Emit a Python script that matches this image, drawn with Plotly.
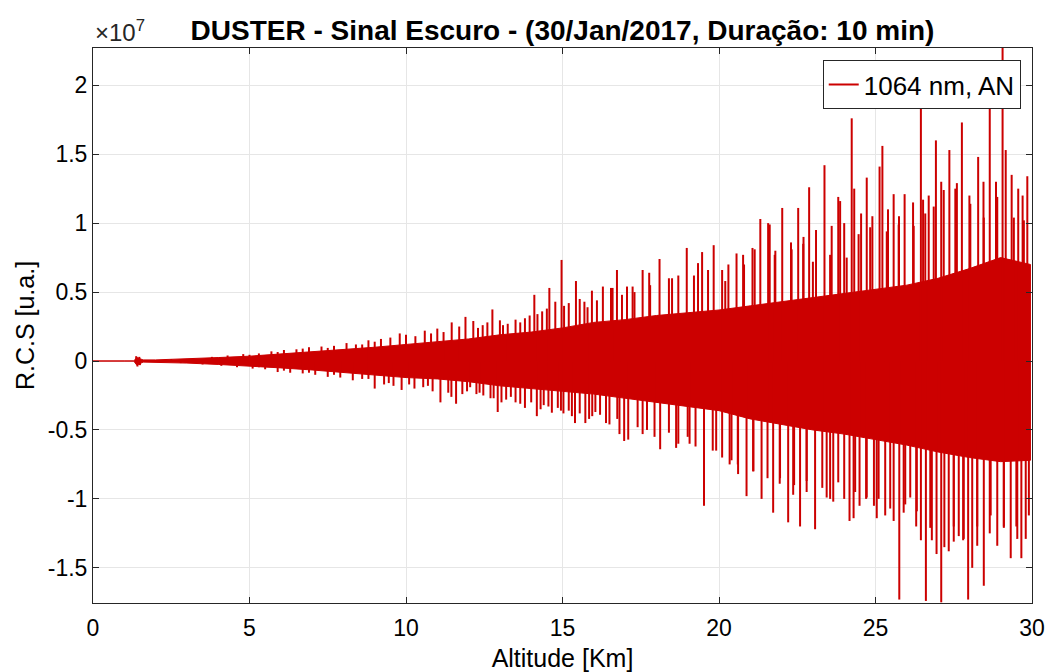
import plotly.graph_objects as go

SCALE = 1e7

# Dense (solid) core of the signal, values in units of 1e7
band_alt = [0, 1, 1.3, 1.4, 1.6, 2, 3, 4, 5, 6, 7, 8, 9, 10, 11, 12, 13, 14, 15,
            16, 17, 18, 19, 20, 21, 22, 23, 24, 25, 26, 27, 28, 29, 29.95]
band_upper = [0, 0, 0, 0.025, 0.008, 0.008, 0.015, 0.025, 0.035, 0.05, 0.065, 0.08,
              0.10, 0.12, 0.14, 0.16, 0.19, 0.21, 0.24, 0.28, 0.30, 0.33, 0.35, 0.37,
              0.40, 0.43, 0.46, 0.49, 0.52, 0.55, 0.60, 0.67, 0.75, 0.70]
band_lower = [0, 0, 0, -0.03, -0.008, -0.008, -0.015, -0.025, -0.035, -0.05, -0.065,
              -0.08, -0.10, -0.12, -0.13, -0.15, -0.18, -0.20, -0.22, -0.24, -0.27,
              -0.30, -0.33, -0.36, -0.42, -0.46, -0.50, -0.53, -0.57, -0.61, -0.66,
              -0.70, -0.73, -0.72]

# Positive spikes (altitude km, value in 1e7)
up_alt = [1.38, 1.48, 2.5, 3.2, 3.8, 4.3, 4.8, 5.3, 5.7, 6.1, 6.5, 6.9, 7.3, 7.7, 8.1,
          8.4, 8.8, 9.2, 9.5, 9.8, 10.0, 10.3, 10.6, 11.0, 11.46, 11.9, 12.15, 12.45,
          12.76, 13.0, 13.25, 13.5, 13.8, 14.1, 14.35, 14.58, 14.77, 14.97, 15.2, 15.43,
          15.7, 15.94, 16.29, 16.55, 16.74, 17.06, 17.3, 17.56, 17.8, 18.1, 18.4, 18.7,
          18.97, 19.2, 19.46, 19.83, 20.1, 20.3, 20.56, 20.8, 21.07, 21.32, 21.57, 21.8,
          22.02, 22.3, 22.53, 22.7, 22.88, 23.1, 23.37, 23.6, 23.81, 24.0, 24.24, 24.32,
          24.54, 24.72, 24.9, 25.13, 25.22, 25.4, 25.58, 25.75, 25.93, 26.2, 26.45, 26.52,
          26.7, 26.93, 27.1, 27.36, 27.55, 27.76, 28.0, 28.28, 28.45, 28.65, 28.85, 29.06,
          29.16, 29.35, 29.56, 29.7, 29.85,
          16.6, 17.24, 17.77, 18.5, 19.33, 19.65, 20.2, 20.77, 21.14, 21.62, 21.78, 22.32,
          22.69, 23.0, 23.55, 23.87, 24.08, 24.46, 24.83, 25.36, 25.74, 26.22, 26.59,
          26.86, 27.18, 27.6, 28.03, 28.46, 28.89, 29.42, 29.74,
          5.0, 5.9, 6.7, 7.5, 8.6, 9.0, 10.8, 11.2, 11.7, 12.3, 12.6, 13.1, 13.65, 13.95,
          14.2, 14.5, 15.05, 15.55, 15.8, 16.1, 16.9]
up_val = [0.035, 0.03, 0.014, 0.022, 0.03, 0.04, 0.05, 0.055, 0.07, 0.08, 0.085, 0.10,
          0.105, 0.11, 0.13, 0.12, 0.15, 0.16, 0.17, 0.20, 0.19, 0.18, 0.22, 0.235, 0.28,
          0.32, 0.29, 0.26, 0.374, 0.295, 0.27, 0.30, 0.31, 0.48, 0.36, 0.53, 0.43, 0.733,
          0.42, 0.58, 0.43, 0.51, 0.54, 0.53, 0.66, 0.54, 0.50, 0.66, 0.55, 0.74, 0.60,
          0.62, 0.82, 0.62, 0.79, 0.84, 0.66, 0.70, 0.78, 0.70, 0.82, 1.03, 1.00, 0.80,
          1.11, 0.86, 1.11, 0.90, 1.26, 0.95, 1.42, 0.98, 1.19, 1.00, 1.76, 1.25, 1.07,
          1.33, 1.05, 1.41, 1.56, 1.10, 1.21, 1.05, 1.21, 1.15, 1.88, 1.17, 1.20, 1.60,
          1.30, 1.53, 1.25, 1.73, 1.20, 1.48, 1.30, 1.85, 1.30, 2.27, 1.53, 1.35, 1.25,
          1.20, 1.34,
          0.53, 0.54, 0.64, 0.60, 0.71, 0.66, 0.58, 0.77, 0.81, 0.99, 0.77, 0.81,
          0.85, 0.72, 0.77, 1.16, 0.75, 0.92, 0.97, 0.94, 0.99, 0.98, 1.07,
          1.12, 1.24, 1.29, 1.14, 1.04, 1.19, 1.04, 1.02,
          0.045, 0.065, 0.09, 0.095, 0.12, 0.14, 0.20, 0.21, 0.25, 0.24, 0.28, 0.26, 0.28,
          0.33, 0.34, 0.38, 0.40, 0.45, 0.39, 0.44, 0.48]

# Negative spikes (altitude km, value in 1e7)
dn_alt = [1.42, 1.5, 2.8, 3.5, 4.1, 4.6, 5.1, 5.5, 5.9, 6.3, 6.7, 7.1, 7.5, 7.9, 8.3,
          8.6, 9.0, 9.3, 9.6, 9.86, 10.27, 10.55, 10.85, 11.1, 11.35, 11.6, 11.8, 12.05,
          12.25, 12.47, 12.7, 12.93, 13.2, 13.5, 13.8, 14.0, 14.18, 14.4, 14.66, 14.85,
          15.03, 15.2, 15.4, 15.55, 15.73, 15.95, 16.2, 16.5, 16.75, 16.97, 17.1, 17.4,
          17.7, 18.12, 18.4, 18.7, 19.0, 19.25, 19.52, 19.8, 20.1, 20.4, 20.6, 20.88,
          21.1, 21.36, 21.55, 21.73, 21.95, 22.21, 22.4, 22.59, 22.8, 23.07, 23.3, 23.55,
          23.81, 24.0, 24.17, 24.35, 24.49, 24.7, 24.95, 25.1, 25.31, 25.58, 25.76, 25.9,
          26.11, 26.3, 26.45, 26.61, 26.8, 26.95, 27.1, 27.2, 27.34, 27.5, 27.66, 27.8,
          27.96, 28.09, 28.25, 28.46, 28.65, 28.89, 29.1, 29.32, 29.5, 29.66, 29.9,
          16.39, 16.82, 17.56, 17.94, 18.63, 19.06, 19.91, 20.34, 20.61, 21.09, 21.94,
          22.37, 22.8, 23.44, 23.65, 24.3, 24.72, 25.04, 25.47, 25.95, 26.32, 26.75,
          27.5, 27.82, 28.25, 28.68, 29.1, 29.53, 29.8,
          5.3, 6.1, 6.9, 7.7, 8.8, 9.45, 10.1, 10.7, 11.45, 11.95, 12.35, 12.8, 13.05,
          13.35, 13.65, 14.3, 14.55, 14.95, 15.3, 15.85, 16.05]
dn_val = [-0.04, -0.03, -0.015, -0.025, -0.035, -0.045, -0.055, -0.06, -0.08, -0.085,
          -0.09, -0.10, -0.115, -0.12, -0.14, -0.13, -0.20, -0.17, -0.18, -0.21, -0.20,
          -0.19, -0.22, -0.30, -0.23, -0.31, -0.24, -0.19, -0.24, -0.25, -0.27, -0.37,
          -0.28, -0.30, -0.34, -0.30, -0.40, -0.32, -0.375, -0.34, -0.38, -0.36, -0.45,
          -0.38, -0.45, -0.40, -0.39, -0.46, -0.42, -0.58, -0.57, -0.48, -0.50, -0.64,
          -0.52, -0.60, -0.55, -0.62, -1.05, -0.65, -0.70, -0.72, -0.75, -0.98, -0.80,
          -1.00, -0.85, -1.10, -0.85, -1.17, -0.90, -1.20, -0.95, -1.22, -0.92, -1.00,
          -0.88, -1.00, -1.16, -0.95, -1.05, -1.00, -1.05, -1.00, -1.12, -1.16, -1.73,
          -1.10, -0.99, -1.20, -1.30, -1.74, -1.30, -1.40, -1.75, -1.35, -1.38, -1.20,
          -1.27, -1.30, -1.73, -1.50, -1.20, -1.63, -1.25, -1.34, -1.20, -1.43, -1.20,
          -1.43, -1.12,
          -0.45, -0.53, -0.53, -0.55, -0.63, -0.60, -0.65, -0.75, -0.82, -0.80, -0.89,
          -0.97, -0.87, -0.99, -1.02, -1.14, -0.99, -1.14, -1.07, -1.04, -1.09, -1.21,
          -1.31, -1.29, -1.34, -1.12, -1.21, -1.29, -1.29,
          -0.045, -0.07, -0.085, -0.10, -0.13, -0.16, -0.17, -0.18, -0.26, -0.22, -0.23,
          -0.27, -0.30, -0.26, -0.31, -0.35, -0.33, -0.36, -0.40, -0.42, -0.37]

x_ticks = [0, 5, 10, 15, 20, 25, 30]
y_ticks = [-1.5, -1, -0.5, 0, 0.5, 1, 1.5, 2]
y_tick_text = ["-1.5", "-1", "-0.5", "0", "0.5", "1", "1.5", "2"]

RED = "#cc0000"
AX = "#262626"
FONT = "Liberation Sans, Arial, sans-serif"

fig = go.Figure()

# solid core band
poly_x = band_alt + band_alt[::-1]
poly_y = [v * SCALE for v in band_upper] + [v * SCALE for v in band_lower[::-1]]
fig.add_trace(go.Scatter(x=poly_x, y=poly_y, fill="toself", fillcolor=RED,
                         mode="lines", line=dict(color=RED, width=1),
                         showlegend=False, hoverinfo="skip"))

# spikes
pairs = sorted(list(zip(up_alt, up_val)) + list(zip(dn_alt, dn_val)))
sx, sy = [], []
for a, v in pairs:
    sx += [a, a, None]
    sy += [0, v * SCALE, None]
fig.add_trace(go.Scatter(x=sx, y=sy, mode="lines", line=dict(color=RED, width=2),
                         name="1064 nm, AN", showlegend=True))

fig.update_layout(
    width=1047, height=672,
    margin=dict(l=93, r=15, t=48, b=69, autoexpand=False),
    paper_bgcolor="white", plot_bgcolor="white",
    font=dict(family=FONT, color=AX, size=23),
    title=dict(text="<b>DUSTER - Sinal Escuro - (30/Jan/2017, Duração: 10 min)</b>",
               xref="paper", x=0.5, xanchor="center",
               yref="container", y=1 - 30 / 672, yanchor="middle",
               font=dict(size=28, color="black", family=FONT)),
    legend=dict(x=0.988, y=0.978, xanchor="right", yanchor="top",
                bgcolor="white", bordercolor=AX, borderwidth=1,
                font=dict(size=26, color="black", family=FONT),
                itemwidth=30, tracegroupgap=0),
    showlegend=True,
)
fig.update_xaxes(range=[0, 30], tickvals=x_ticks, showgrid=True, gridcolor="#e6e6e6",
                 gridwidth=1, zeroline=False, showline=True, linecolor=AX, linewidth=1,
                 mirror="ticks", ticks="inside", ticklen=6, tickcolor=AX,
                 automargin=False, ticklabelstandoff=4,
                 tickfont=dict(size=23, color="black"),
                 title=dict(text="Altitude [Km]", font=dict(size=25, color="black"),
                            standoff=10))
fig.update_yaxes(range=[-1.755 * SCALE, 2.27 * SCALE],
                 tickvals=[v * SCALE for v in y_ticks], ticktext=y_tick_text,
                 showgrid=True, gridcolor="#e6e6e6", gridwidth=1, zeroline=False,
                 showline=True, linecolor=AX, linewidth=1, mirror="ticks",
                 ticks="inside", ticklen=6, tickcolor=AX,
                 automargin=False, tickfont=dict(size=23, color="black"),
                 title=dict(text="R.C.S [u.a.]", font=dict(size=25, color="black"),
                            standoff=6))

fig.add_annotation(text="×10<sup>7</sup>", xref="paper", yref="paper", x=0, y=1,
                   xanchor="left", yanchor="bottom", showarrow=False, yshift=0,
                   font=dict(size=24, color=AX, family=FONT))

fig.write_html("out.html", config={"displayModeBar": False},
               post_script="document.body.style.margin='0';")
